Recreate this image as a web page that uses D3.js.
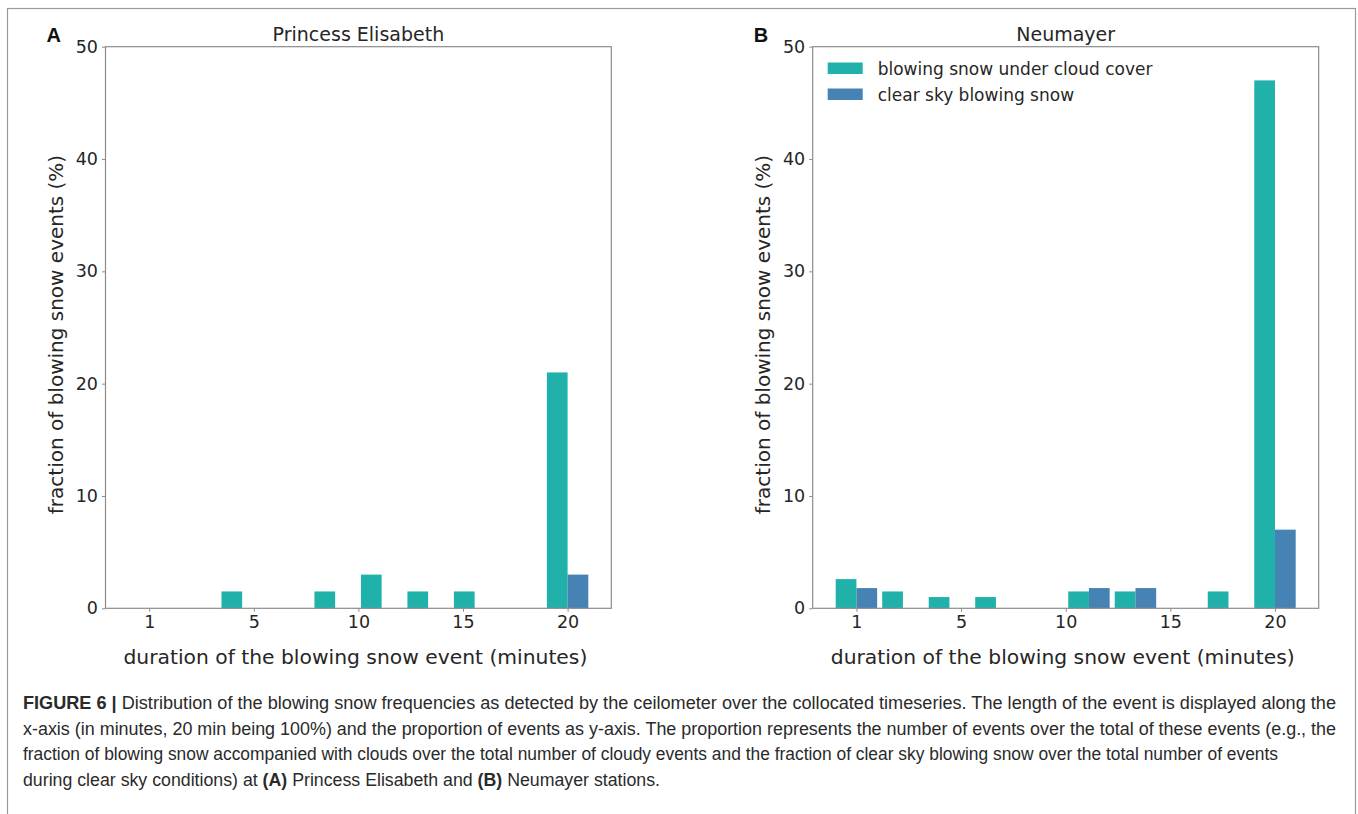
<!DOCTYPE html>
<html>
<head>
<meta charset="utf-8">
<script src="https://cdn.jsdelivr.net/npm/d3@7"></script>
<style>
  html, body { margin: 0; padding: 0; background: #fff; }
  svg { display: block; }
</style>
</head>
<body>
<div id="chart"></div>
<script>
// histogram bins (index along x), labels shown under some of them
const binIds = [0, 1, 2, 3, 4, 5, 6, 7, 8, 9];
const tickAt = [0, 2.25, 4.5, 6.75, 9];
const tickLabels = ['1', '5', '10', '15', '20'];
const yTicks = [0, 10, 20, 30, 40, 50];

// Princess Elisabeth (%)
const peCloud = [0, 0, 1.5, 0, 1.5, 3.0, 1.5, 1.5, 0, 21.0];
const peClear = [0, 0, 0, 0, 0, 0, 0, 0, 0, 3.0];
// Neumayer (%)
const nmCloud = [2.6, 1.5, 1.0, 1.0, 0, 1.5, 1.5, 0, 1.5, 47.0];
const nmClear = [1.8, 0, 0, 0, 0, 1.8, 1.8, 0, 0, 7.0];

const seriesNames = ['blowing snow under cloud cover', 'clear sky blowing snow'];
const colors = ['#20b2aa', '#4682b4'];

const W = 1358, H = 814;
const svg = d3.select('#chart').append('svg').attr('width', W).attr('height', H);

// figure frame
svg.append('rect')
  .attr('x', 7.5).attr('y', 8.5).attr('width', W - 10).attr('height', H + 20)
  .attr('fill', 'none').attr('stroke', '#9a9a9a').attr('stroke-width', 1.2);

const tickFont = 'DejaVu Sans, sans-serif';
const plotTop = 46.7, plotBottom = 608.3;
const barW = 0.4455; // one bar, in bin units

function panel(left, right, letter, title, cloud, clear, withLegend) {
  const lo = -barW, hi = binIds[binIds.length - 1] + barW;
  const pad = 0.05 * (hi - lo);
  const x = d3.scaleLinear().domain([lo - pad, hi + pad]).range([left, right]);
  const y = d3.scaleLinear().domain([0, 50]).range([plotBottom, plotTop]);
  const g = svg.append('g');

  // bars
  const rows = binIds.map((b, i) => ({ b, c: cloud[i], s: clear[i] }));
  g.selectAll('rect.cloud').data(rows.filter(d => d.c > 0)).join('rect')
    .attr('class', 'cloud')
    .attr('x', d => x(d.b - barW)).attr('width', d => x(d.b) - x(d.b - barW))
    .attr('y', d => y(d.c)).attr('height', d => y(0) - y(d.c))
    .attr('fill', colors[0]);
  g.selectAll('rect.clear').data(rows.filter(d => d.s > 0)).join('rect')
    .attr('class', 'clear')
    .attr('x', d => x(d.b)).attr('width', d => x(d.b + barW) - x(d.b))
    .attr('y', d => y(d.s)).attr('height', d => y(0) - y(d.s))
    .attr('fill', colors[1]);

  // axes
  const ax = g.append('g').attr('transform', `translate(0,${plotBottom})`)
    .call(d3.axisBottom(x).tickValues(tickAt).tickFormat((d, i) => tickLabels[i])
      .tickSizeInner(3.5).tickSizeOuter(0).tickPadding(4));
  const ay = g.append('g').attr('transform', `translate(${left},0)`)
    .call(d3.axisLeft(y).tickValues(yTicks).tickSizeInner(3.5).tickSizeOuter(0).tickPadding(4));
  [ax, ay].forEach(a => {
    a.select('.domain').remove();
    a.selectAll('.tick line').attr('stroke', '#8c8c8c');
    a.selectAll('.tick text').attr('fill', '#262626')
      .style('font-family', tickFont).style('font-size', '17.5px');
  });

  // frame
  g.append('rect')
    .attr('x', left).attr('y', plotTop).attr('width', right - left).attr('height', plotBottom - plotTop)
    .attr('fill', 'none').attr('stroke', '#8c8c8c').attr('stroke-width', 1.2);

  // labels
  g.append('text')
    .attr('x', (left + right) / 2).attr('y', 41)
    .attr('text-anchor', 'middle')
    .style('font-family', tickFont).style('font-size', '19px').attr('fill', '#262626')
    .text(title);
  g.append('text')
    .attr('x', (left + right) / 2 - 3).attr('y', 664)
    .attr('text-anchor', 'middle')
    .style('font-family', tickFont).style('font-size', '20.3px').attr('fill', '#262626')
    .text('duration of the blowing snow event (minutes)');
  g.append('text')
    .attr('transform', `translate(${left - 43},${(plotTop + plotBottom) / 2 + 7}) rotate(-90)`)
    .attr('text-anchor', 'middle')
    .style('font-family', tickFont).style('font-size', '20px').attr('fill', '#262626')
    .text('fraction of blowing snow events (%)');
  g.append('text')
    .attr('x', left - 59).attr('y', 42)
    .style('font-family', 'Liberation Sans, Arial, sans-serif').style('font-weight', 'bold')
    .style('font-size', '20px').attr('fill', '#111')
    .text(letter);

  if (withLegend) {
    const lg = g.append('g').attr('transform', `translate(${left + 15},62.5)`);
    const items = lg.selectAll('g').data(seriesNames).join('g')
      .attr('transform', (d, i) => `translate(0,${i * 26})`);
    items.append('rect').attr('width', 35).attr('height', 11.5)
      .attr('fill', (d, i) => colors[i]);
    items.append('text').attr('x', 50).attr('y', 12)
      .style('font-family', tickFont).style('font-size', '17px').attr('fill', '#262626')
      .text(d => d);
  }
}

panel(105.5, 611.3, 'A', 'Princess Elisabeth', peCloud, peClear, false);
panel(812.7, 1318.7, 'B', 'Neumayer', nmCloud, nmClear, true);

// caption
const capLines = [
  [['FIGURE 6 | ', true], ['Distribution of the blowing snow frequencies as detected by the ceilometer over the collocated timeseries. The length of the event is displayed along the', false]],
  [['x-axis (in minutes, 20 min being 100%) and the proportion of events as y-axis. The proportion represents the number of events over the total of these events (e.g., the', false]],
  [['fraction of blowing snow accompanied with clouds over the total number of cloudy events and the fraction of clear sky blowing snow over the total number of events', false]],
  [['during clear sky conditions) at ', false], ['(A)', true], [' Princess Elisabeth and ', false], ['(B)', true], [' Neumayer stations.', false]]
];
const capEnds = [1336, 1336, 1278, 660]; // right end of each caption line
const cap = svg.append('g')
  .style('font-family', '"Liberation Sans Narrow", "Liberation Sans", Arial, sans-serif')
  .attr('fill', '#2a2a2a');
const capText = cap.selectAll('text').data(capLines).join('text')
  .attr('x', 23).attr('y', (d, i) => 709 + i * 25.5)
  .style('font-size', '17.5px')
  .attr('textLength', (d, i) => capEnds[i] - 23)
  .attr('lengthAdjust', 'spacingAndGlyphs');
capText.selectAll('tspan').data(d => d).join('tspan')
  .style('font-weight', d => d[1] ? 'bold' : 'normal')
  .text(d => d[0]);
</script>
</body>
</html>
